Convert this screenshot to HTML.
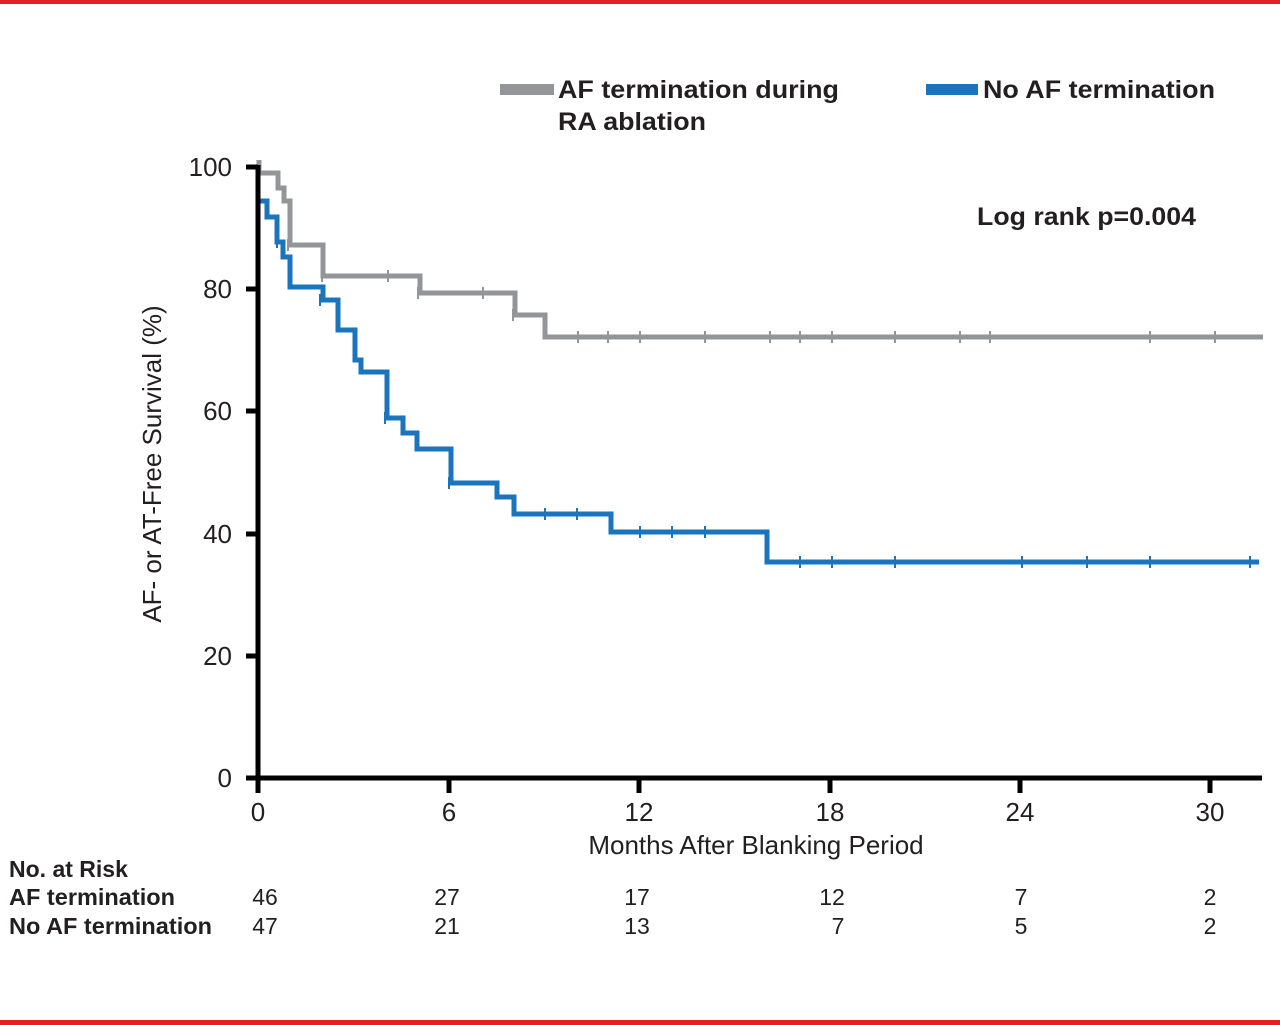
<!DOCTYPE html>
<html><head><style>
html,body{margin:0;padding:0;background:#fff;}
svg{display:block;}
text{font-family:"Liberation Sans",Arial,sans-serif;}
</style></head><body>
<svg width="1280" height="1025" viewBox="0 0 1280 1025" xmlns="http://www.w3.org/2000/svg">
<rect x="0" y="0" width="1280" height="4" fill="#e31e24"/>
<rect x="0" y="1020" width="1280" height="5" fill="#e31e24"/>

<!-- legend -->
<rect x="500" y="84" width="54" height="11" fill="#939598"/>
<text x="558" y="98" font-size="25" font-weight="bold" fill="#231f20" textLength="281" lengthAdjust="spacingAndGlyphs">AF termination during</text>
<text x="558" y="130" font-size="25" font-weight="bold" fill="#231f20" textLength="148" lengthAdjust="spacingAndGlyphs">RA ablation</text>
<rect x="926" y="84" width="52" height="11" fill="#1a75bc"/>
<text x="983" y="98" font-size="25" font-weight="bold" fill="#231f20" textLength="232" lengthAdjust="spacingAndGlyphs">No AF termination</text>
<text x="977" y="225" font-size="25" font-weight="bold" fill="#231f20" textLength="219" lengthAdjust="spacingAndGlyphs">Log rank p=0.004</text>

<!-- curves -->
<path d="M259,160 V173 H278 V188 H284 V201 H290 V245 H323 V276 H420 V293 H515 V315 H545 V337 H1263" fill="none" stroke="#939598" stroke-width="5"/>
<path d="M258,170 V201 H267 V217 H277 V242 H283 V257 H290 V287 H323 V300 H338 V330 H355 V360 H361 V372 H387 V418 H403 V433 H417 V449 H451 V483 H497 V497 H514 V514 H611 V532 H767 V562 H1259" fill="none" stroke="#1a75bc" stroke-width="5"/>
<g stroke="#939598" stroke-width="2">
<path d="M388,270V282 M483,287V299 M578,331V343 M608,331V343 M640,331V343 M705,331V343 M770,331V343 M800,331V343 M832,331V343 M895,331V343 M960,331V343 M990,331V343 M1150,331V343 M1215,331V343 M288,239V251 M322,270V282 M418,287V299 M513,309V321"/>
</g>
<g stroke="#1a75bc" stroke-width="2">
<path d="M545,508V520 M577,508V520 M640,526V538 M672,526V538 M705,526V538 M800,556V568 M832,556V568 M895,556V568 M1022,556V568 M1087,556V568 M1150,556V568 M1250,556V568 M277,236V248 M320,294V306 M385,412V424 M449,477V489"/>
</g>

<!-- axes -->
<g stroke="#000" stroke-width="5" fill="none">
<path d="M258,165 V780 M256,778 H1262"/>
<path d="M246,167H258 M246,289H258 M246,411H258 M246,534H258 M246,656H258 M246,778H258"/>
<path d="M258,778V793 M449,778V793 M639,778V793 M830,778V793 M1020,778V793 M1210,778V793"/>
</g>
<g font-size="26" fill="#231f20" text-anchor="end">
<text x="232" y="176">100</text>
<text x="232" y="298">80</text>
<text x="232" y="420">60</text>
<text x="232" y="543">40</text>
<text x="232" y="665">20</text>
<text x="232" y="787">0</text>
</g>
<g font-size="26" fill="#231f20" text-anchor="middle">
<text x="258" y="821">0</text>
<text x="449" y="821">6</text>
<text x="639" y="821">12</text>
<text x="830" y="821">18</text>
<text x="1020" y="821">24</text>
<text x="1210" y="821">30</text>
<text x="756" y="854">Months After Blanking Period</text>
<text transform="translate(161,464) rotate(-90)">AF- or AT-Free Survival (%)</text>
</g>

<!-- risk table -->
<g font-size="23" font-weight="bold" fill="#231f20">
<text x="9" y="877">No. at Risk</text>
<text x="9" y="905" textLength="166" lengthAdjust="spacingAndGlyphs">AF termination</text>
<text x="9" y="934" textLength="203" lengthAdjust="spacingAndGlyphs">No AF termination</text>
</g>
<g font-size="23" fill="#231f20" text-anchor="middle">
<text x="265" y="905">46</text><text x="447" y="905">27</text><text x="637" y="905">17</text><text x="832" y="905">12</text><text x="1021" y="905">7</text><text x="1210" y="905">2</text>
<text x="265" y="934">47</text><text x="447" y="934">21</text><text x="637" y="934">13</text><text x="838" y="934">7</text><text x="1021" y="934">5</text><text x="1210" y="934">2</text>
</g>
</svg>
</body></html>
